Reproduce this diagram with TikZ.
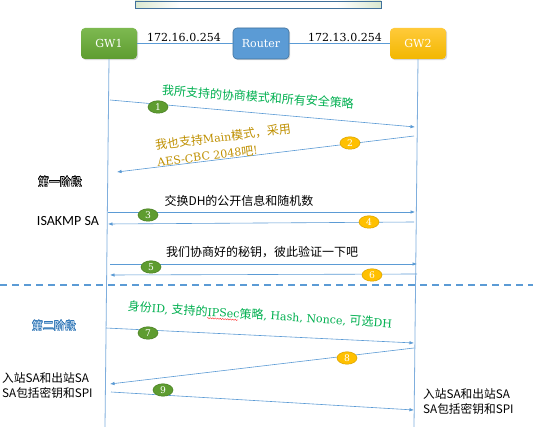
\documentclass[tikz,border=0pt]{standalone}
\usepackage{fontspec}
\setmainfont[Scale=0.92]{DejaVu Serif}
\setsansfont{Carlito}
\newfontfamily\cj{Noto Sans CJK SC}
\usepackage{contour}
\contourlength{0.3pt}
\usetikzlibrary{shapes.geometric,shadows,arrows.meta,decorations.pathmorphing}
\definecolor{barG}{HTML}{70A84A}
\definecolor{lineB}{HTML}{5B9BD5}
\definecolor{lifeB}{HTML}{7FAEDD}
\definecolor{txtG}{HTML}{00B050}
\definecolor{txtY}{HTML}{BF9000}
\definecolor{gwGt}{HTML}{7DB950}
\definecolor{gwGb}{HTML}{5E9C30}
\definecolor{gwYt}{HTML}{FFCA3A}
\definecolor{gwYb}{HTML}{F2B700}
\definecolor{rtB}{HTML}{5B9BD5}
\definecolor{rtD}{HTML}{41719C}
\definecolor{bdG}{HTML}{5E9C30}
\definecolor{bdGd}{HTML}{4A7F25}
\definecolor{bdY}{HTML}{FFC000}
\definecolor{bdYd}{HTML}{D9A300}
\definecolor{phaseB}{HTML}{2E75B6}
\definecolor{phaseF}{HTML}{DDEBF7}
\pgfdeclarehorizontalshading{barshade}{100bp}{color(0bp)=(barG); color(34bp)=(white); color(66bp)=(white); color(100bp)=(barG)}
\begin{document}
\begin{tikzpicture}[x=1pt,y=-1pt,
  gwbox/.style={rounded corners=4pt, minimum width=56pt, minimum height=31pt, inner sep=0pt,
    text=white, font=\fontsize{12}{14}\selectfont,
    drop shadow={opacity=0.3, shadow xshift=1.2pt, shadow yshift=-1.2pt}},
  conn/.style={draw=lineB, line width=0.8pt},
  life/.style={draw=lifeB, line width=0.8pt},
  msg/.style={draw=lineB, line width=0.6pt, -{Latex[length=4.5pt,width=3.5pt]}},
  badge/.style={ellipse, minimum width=20pt, minimum height=12.5pt, inner sep=0pt,
    text=white, font=\fontsize{10}{11}\selectfont, line width=0.5pt},
  badgeG/.style={badge, fill=bdG, draw=bdGd},
  badgeY/.style={badge, fill=bdY, draw=bdYd},
  iplab/.style={font=\fontsize{12}{14}\selectfont},
  greenlab/.style={text=txtG, font=\fontsize{12}{14}\selectfont},
  blacklab/.style={font=\cj\fontsize{12}{14}\selectfont},
  sidelab/.style={font=\cj\fontsize{11.7}{15}\selectfont, align=left, inner sep=0pt},
  phase/.style={font=\cj\fontsize{11}{13}\selectfont, inner sep=0pt}
]
\useasboundingbox (0,0) rectangle (533,427);
\fill[white] (0,0) rectangle (533,427);

% top gradient bar
\node[draw=rtD, line width=0.6pt, shading=barshade, minimum width=246pt, minimum height=7pt, inner sep=0pt] (bar) at (258,4.5) {};

% boxes
\node[gwbox, top color=gwGt, bottom color=gwGb] (gw1) at (109,43.5) {GW1};
\node[gwbox, fill=rtB, draw=rtD, line width=0.6pt] (router) at (261,43.5) {Router};
\node[gwbox, top color=gwYt, bottom color=gwYb] (gw2) at (418,43.5) {GW2};

\draw[conn] (gw1.east) -- (router.west);
\draw[conn] (router.east) -- (gw2.west);
\node[iplab] (ip1) at (184,37) {172.16.0.254};
\node[iplab] (ip2) at (345,37) {172.13.0.254};

% lifelines
\coordinate (l1b) at (105,427);
\coordinate (l2b) at (414,427);
\draw[life] (gw1.south) -- (l1b);
\draw[life] (gw2.south) -- (l2b);

% dashed separator
\coordinate (dl) at (0,285);
\coordinate (dr) at (533,285);
\draw[draw=lineB, line width=1.4pt, dash pattern=on 7pt off 5pt] (dl) -- (dr);

% message 1
\coordinate (m1s) at (110,100); \coordinate (m1e) at (415,127);
\draw[msg] (m1s) -- (m1e);
\node[badgeG] (b1) at (158,107) {1};
\node[greenlab, rotate=-4] (t1) at (258,97) {\cj 我所支持的协商模式和所有安全策略};

% message 2
\coordinate (m2s) at (414,136); \coordinate (m2e) at (117,172);
\draw[msg] (m2s) -- (m2e);
\node[badgeY] (b2) at (350,143) {2};
\node[text=txtY, font=\fontsize{12}{17}\selectfont, rotate=7, align=left, inner sep=1pt] (t2) at (224,145)
  {{\cj 我也支持}Main{\cj 模式，采用}\\AES-CBC 2048{\cj 吧}!};

% phase 1
\node[phase] (p1) at (60,182) {\contour{black}{\textcolor{white}{第一阶段}}};

% messages 3,4
\node[blacklab] (t3) at (239,201) {交换DH的公开信息和随机数};
\coordinate (m3s) at (108,212); \coordinate (m3e) at (415,212);
\draw[msg] (m3s) -- (m3e);
\node[badgeG] (b3) at (148,215) {3};
\coordinate (m4s) at (414,222); \coordinate (m4e) at (108,224);
\draw[msg] (m4s) -- (m4e);
\node[badgeY] (b4) at (369,222) {4};
\node[font=\sffamily\fontsize{14}{16}\selectfont] (isa) at (68,221) {ISAKMP SA};

% messages 5,6
\node[blacklab] (t5) at (262,252) {我们协商好的秘钥，彼此验证一下吧};
\coordinate (m5s) at (110,264); \coordinate (m5e) at (417,264);
\draw[msg] (m5s) -- (m5e);
\node[badgeG] (b5) at (151,267) {5};
\coordinate (m6s) at (417,274); \coordinate (m6e) at (110,275);
\draw[msg] (m6s) -- (m6e);
\node[badgeY] (b6) at (372,275) {6};

% phase 2
\node[phase] (p2) at (54,326) {\contour{phaseB}{\textcolor{phaseF}{第二阶段}}};

% message 7
\node[greenlab, rotate=-3.6] (t7) at (260,315)
  {{\cj 身份}ID, {\cj 支持的}IPSec{\cj 策略}, Hash, Nonce, {\cj 可选}DH};
\coordinate (sq1) at (207,318); \coordinate (sq2) at (238,320);
\draw[red!80, line width=0.4pt, decorate, decoration={snake, amplitude=0.6pt, segment length=2.5pt}] (sq1) -- (sq2);
\coordinate (m7s) at (106,328); \coordinate (m7e) at (414,343);
\draw[msg] (m7s) -- (m7e);
\node[badgeG] (b7) at (148,333) {7};

% message 8
\coordinate (m8s) at (414,348); \coordinate (m8e) at (110,384);
\draw[msg] (m8s) -- (m8e);
\node[badgeY] (b8) at (347,358) {8};

% message 9
\coordinate (m9s) at (111,392); \coordinate (m9e) at (414,410);
\draw[msg] (m9s) -- (m9e);
\node[badgeG] (b9) at (163,390) {9};

% side labels
\node[sidelab, anchor=west] (sl) at (2,386) {入站SA和出站SA\\SA包括密钥和SPI};
\node[sidelab, anchor=west] (sr) at (423,401.5) {入站SA和出站SA\\SA包括密钥和SPI};
\end{tikzpicture}
\end{document}
